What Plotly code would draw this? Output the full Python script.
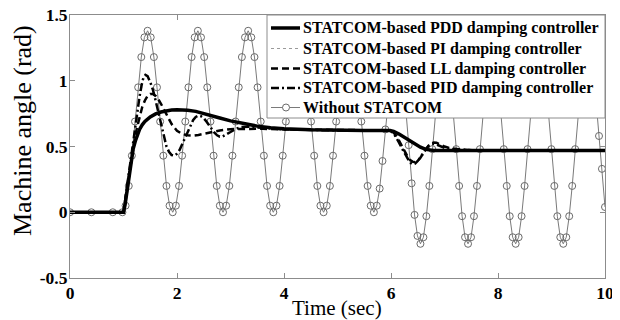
import plotly.graph_objects as go

# ---- Without STATCOM ----
t_wo = [0, 0.4, 0.8,
        0.98, 1.039, 1.098, 1.156, 1.215, 1.274, 1.333, 1.391, 1.45,
        1.509, 1.568, 1.626, 1.685, 1.744, 1.803, 1.861, 1.92,
        1.979, 2.038, 2.096, 2.155, 2.214, 2.273, 2.331, 2.39,
        2.449, 2.508, 2.566, 2.625, 2.684, 2.743, 2.801, 2.86,
        2.919, 2.978, 3.036, 3.095, 3.154, 3.213, 3.271, 3.33,
        3.389, 3.448, 3.506, 3.565, 3.624, 3.683, 3.741, 3.80,
        3.859, 3.918, 3.976, 4.035, 4.094, 4.153, 4.211, 4.27,
        4.329, 4.388, 4.446, 4.505, 4.564, 4.623, 4.681, 4.74,
        4.799, 4.858, 4.916, 4.975, 5.034, 5.093, 5.151, 5.21,
        5.269, 5.328, 5.386, 5.445, 5.504, 5.563, 5.621, 5.68,
        5.734, 5.788, 5.841, 5.895, 5.949, 6.003, 6.056, 6.11,
        6.165, 6.22, 6.275, 6.33, 6.385, 6.44, 6.495, 6.55,
        6.606, 6.661, 6.717, 6.772, 6.828, 6.884, 6.939, 6.995,
        7.051, 7.106, 7.162, 7.218, 7.273, 7.329, 7.384, 7.44,
        7.496, 7.551, 7.607, 7.662, 7.718, 7.774, 7.829, 7.885,
        7.941, 7.996, 8.052, 8.108, 8.163, 8.219, 8.274, 8.33,
        8.386, 8.441, 8.497, 8.552, 8.608, 8.664, 8.719, 8.775,
        8.831, 8.886, 8.942, 8.998, 9.053, 9.109, 9.164, 9.22,
        9.276, 9.331, 9.387, 9.442, 9.498, 9.554, 9.609, 9.665,
        9.721, 9.776, 9.832, 9.888, 9.943, 10.0]
v_wo = [0, 0, 0,
        0, 0.05, 0.20, 0.43, 0.69, 0.95, 1.18, 1.33, 1.38,
        1.33, 1.18, 0.95, 0.69, 0.43, 0.20, 0.05, 0.0,
        0.05, 0.20, 0.43, 0.69, 0.95, 1.18, 1.33, 1.38,
        1.33, 1.18, 0.95, 0.69, 0.43, 0.20, 0.05, 0.0,
        0.05, 0.20, 0.43, 0.69, 0.95, 1.18, 1.33, 1.38,
        1.33, 1.18, 0.95, 0.69, 0.43, 0.20, 0.05, 0.0,
        0.05, 0.20, 0.43, 0.69, 0.95, 1.18, 1.33, 1.38,
        1.33, 1.18, 0.95, 0.69, 0.43, 0.20, 0.05, 0.0,
        0.05, 0.20, 0.43, 0.69, 0.95, 1.18, 1.33, 1.38,
        1.33, 1.18, 0.95, 0.69, 0.43, 0.20, 0.05, 0.0,
        0.05, 0.18, 0.39, 0.63, 0.86, 1.07, 1.20, 1.25,
        1.19, 1.03, 0.79, 0.51, 0.22, -0.02, -0.18, -0.24,
        -0.19, -0.03, 0.20, 0.48, 0.76, 0.99, 1.15, 1.20,
        1.15, 0.99, 0.76, 0.48, 0.20, -0.03, -0.19, -0.24,
        -0.19, -0.03, 0.20, 0.48, 0.76, 0.99, 1.15, 1.20,
        1.15, 0.99, 0.76, 0.48, 0.20, -0.03, -0.19, -0.24,
        -0.19, -0.03, 0.20, 0.48, 0.76, 0.99, 1.15, 1.20,
        1.15, 0.99, 0.76, 0.48, 0.20, -0.03, -0.19, -0.24,
        -0.19, -0.03, 0.20, 0.48, 0.76, 0.99, 1.15, 1.20,
        1.19, 1.10, 0.85, 0.58, 0.33, 0.04]

# ---- STATCOM-based PDD ----
t_pdd = [0, 1.0, 1.03, 1.06, 1.09, 1.12, 1.15, 1.18, 1.22, 1.26, 1.3, 1.35, 1.4, 1.5,
         1.6, 1.7, 1.8, 1.9, 2.0, 2.1, 2.2, 2.35, 2.5, 2.65, 2.8, 3.0, 3.25, 3.5,
         3.75, 4.0, 4.5, 5.0, 5.5, 5.98, 6.05, 6.15, 6.25, 6.35, 6.45, 6.55, 6.65,
         6.8, 7.0, 8.0, 9.0, 10]
v_pdd = [0, 0, 0.06, 0.15, 0.25, 0.34, 0.42, 0.48, 0.54, 0.59, 0.63, 0.665, 0.69, 0.725,
         0.748, 0.762, 0.772, 0.778, 0.78, 0.779, 0.776, 0.767, 0.752, 0.735, 0.717, 0.695, 0.672, 0.655,
         0.643, 0.635, 0.627, 0.623, 0.622, 0.622, 0.615, 0.595, 0.57, 0.545, 0.52, 0.495, 0.478,
         0.47, 0.47, 0.47, 0.47, 0.47]

# ---- STATCOM-based PI (runs under the PDD trace) ----
t_pi = [0, 1.0, 1.03, 1.06, 1.09, 1.12, 1.15, 1.18, 1.22, 1.26, 1.3, 1.35, 1.4, 1.5,
        1.6, 1.7, 1.8, 1.9, 2.0, 2.1, 2.2, 2.35, 2.5, 2.65, 2.8, 3.0, 3.25, 3.5,
        3.75, 4.0, 4.5, 5.0, 5.5, 5.98, 6.05, 6.15, 6.25, 6.35, 6.45, 6.55, 6.65,
        6.8, 7.0, 8.0, 9.0, 10]
v_pi = [0, 0, 0.06, 0.15, 0.25, 0.34, 0.42, 0.48, 0.54, 0.59, 0.63, 0.665, 0.69, 0.725,
        0.748, 0.762, 0.772, 0.778, 0.78, 0.779, 0.776, 0.767, 0.752, 0.735, 0.717, 0.695, 0.672, 0.655,
        0.643, 0.635, 0.627, 0.623, 0.622, 0.622, 0.615, 0.595, 0.57, 0.545, 0.52, 0.495, 0.478,
        0.47, 0.47, 0.47, 0.47, 0.47]

# ---- STATCOM-based LL ----
t_ll = [0, 1.0, 1.05, 1.1, 1.15, 1.2, 1.25, 1.3, 1.35, 1.4, 1.45, 1.5, 1.55, 1.6, 1.65,
        1.7, 1.8, 1.9, 2.0, 2.1, 2.2, 2.3, 2.4, 2.5, 2.6, 2.8, 3.0, 3.3, 3.6, 4.0,
        5.0, 5.98, 6.05, 6.1, 6.15, 6.2, 6.25, 6.3, 6.35, 6.4, 6.45, 6.5, 6.55, 6.6,
        6.65, 6.7, 6.75, 6.8, 6.85, 6.9, 7.0, 7.1, 7.3, 7.6, 8.0, 9.0, 10]
v_ll = [0, 0, 0.14, 0.28, 0.41, 0.53, 0.64, 0.73, 0.80, 0.85, 0.885, 0.90, 0.90, 0.885, 0.86,
        0.825, 0.745, 0.67, 0.62, 0.595, 0.585, 0.583, 0.588, 0.597, 0.607, 0.622, 0.632, 0.636, 0.635, 0.63,
        0.625, 0.622, 0.605, 0.58, 0.545, 0.505, 0.465, 0.43, 0.40, 0.385, 0.38, 0.39, 0.415, 0.45,
        0.48, 0.505, 0.522, 0.53, 0.528, 0.52, 0.50, 0.488, 0.476, 0.47, 0.47, 0.47, 0.47]

# ---- STATCOM-based PID ----
t_pid = [0, 1.0, 1.05, 1.1, 1.15, 1.2, 1.25, 1.3, 1.34, 1.37, 1.41, 1.45, 1.5, 1.55,
         1.6, 1.65, 1.7, 1.75, 1.8, 1.85, 1.9, 1.95, 2.0, 2.05, 2.1, 2.15, 2.2, 2.25,
         2.3, 2.35, 2.4, 2.45, 2.5, 2.55, 2.6, 2.65, 2.7, 2.75, 2.8, 2.85, 2.9, 3.0,
         3.1, 3.2, 3.35, 3.5, 3.7, 4.0, 5.0, 5.98, 6.05, 6.1, 6.15, 6.2, 6.25, 6.3,
         6.35, 6.4, 6.45, 6.5, 6.55, 6.6, 6.65, 6.7, 6.75, 6.8, 6.85, 6.9, 7.0, 7.1,
         7.3, 7.6, 8.0, 9.0, 10]
v_pid = [0, 0, 0.15, 0.30, 0.46, 0.62, 0.76, 0.88, 0.97, 1.02, 1.045, 1.035, 0.99, 0.93,
         0.85, 0.76, 0.665, 0.575, 0.505, 0.46, 0.435, 0.43, 0.445, 0.475, 0.52, 0.57, 0.62, 0.665,
         0.70, 0.725, 0.735, 0.73, 0.715, 0.69, 0.66, 0.63, 0.605, 0.585, 0.575, 0.575, 0.585, 0.61,
         0.635, 0.648, 0.65, 0.645, 0.638, 0.63, 0.622, 0.622, 0.60, 0.57, 0.53, 0.49, 0.45, 0.41,
         0.38, 0.365, 0.37, 0.39, 0.42, 0.455, 0.485, 0.505, 0.518, 0.52, 0.515, 0.505, 0.49, 0.48,
         0.474, 0.47, 0.47, 0.47, 0.47]

x_ticks = [0, 2, 4, 6, 8, 10]
x_tick_text = ["0", "2", "4", "6", "8", "10"]
y_ticks = [-0.5, 0, 0.5, 1, 1.5]
y_tick_text = ["-0.5", "0", "0.5", "1", "1.5"]

legend_names = ["STATCOM-based PDD damping controller",
                "STATCOM-based PI damping controller",
                "STATCOM-based LL damping controller",
                "STATCOM-based PID damping controller",
                "Without STATCOM"]

for a, b in [(t_wo, v_wo), (t_pdd, v_pdd), (t_pi, v_pi), (t_ll, v_ll), (t_pid, v_pid)]:
    assert len(a) == len(b), (len(a), len(b))

SERIF = "Times New Roman, Liberation Serif, Tinos, serif"
GRAY = "#8c8c8c"

styles = {
    "pdd": dict(color="black", width=3.5),
    "pi": dict(color="#9a9a9a", width=1.2, dash="dot"),
    "ll": dict(color="black", width=2.5, dash="7px,4px"),
    "pid": dict(color="black", width=2.5, dash="8px,3px,2px,3px"),
    "wo": dict(color="#7a7a7a", width=1),
}
wo_marker = dict(symbol="circle-open", size=7, color="#6a6a6a", line=dict(width=1))

fig = go.Figure()
fig.add_trace(go.Scatter(x=t_wo, y=v_wo, mode="lines+markers", name=legend_names[4],
                         line=styles["wo"], marker=wo_marker))
fig.add_trace(go.Scatter(x=t_pi, y=v_pi, mode="lines", name=legend_names[1], line=styles["pi"]))
fig.add_trace(go.Scatter(x=t_ll, y=v_ll, mode="lines", name=legend_names[2], line=styles["ll"]))
fig.add_trace(go.Scatter(x=t_pid, y=v_pid, mode="lines", name=legend_names[3], line=styles["pid"]))
fig.add_trace(go.Scatter(x=t_pdd, y=v_pdd, mode="lines", name=legend_names[0], line=styles["pdd"]))

# page offset of the plot div (browser default body margin)
OFF = 8
FIG_W, FIG_H = 620 - OFF, 320 - OFF
# plot area in page pixels
PL, PT, PR, PB = 70, 15, 605, 278
L, T = PL - OFF, PT - OFF
PW, PH = PR - PL, PB - PT

def px(xp):
    return (xp - PL) / PW
def py(yp):
    return (PB - yp) / PH

shapes = [dict(type="rect", xref="paper", yref="paper", layer="above",
               x0=px(267), x1=1.0, y0=py(118), y1=1.0,
               fillcolor="white", line=dict(color=GRAY, width=1))]
annotations = []
row_y = [28, 48.5, 68.5, 88, 107.5]
keys = ["pdd", "pi", "ll", "pid", "wo"]
for name, key, ry in zip(legend_names, keys, row_y):
    st = styles[key]
    line = dict(color=st["color"], width=st["width"])
    if "dash" in st:
        line["dash"] = st["dash"]
    shapes.append(dict(type="line", xref="paper", yref="paper", layer="above",
                       x0=px(271), x1=px(300), y0=py(ry), y1=py(ry), line=line))
    if key == "wo":
        shapes.append(dict(type="circle", xref="paper", yref="paper", layer="above",
                           xsizemode="pixel", ysizemode="pixel",
                           xanchor=px(286), yanchor=py(ry),
                           x0=-3.5, x1=3.5, y0=-3.5, y1=3.5,
                           fillcolor="white", line=dict(color="#6a6a6a", width=1)))
    annotations.append(dict(xref="paper", yref="paper", x=px(301), y=py(ry),
                            xanchor="left", yanchor="middle", showarrow=False,
                            text="<b>" + name + "</b>",
                            font=dict(family=SERIF, size=16, color="black")))

# axis titles
annotations.append(dict(xref="paper", yref="paper", x=px(337), y=py(308),
                        xanchor="center", yanchor="middle", showarrow=False,
                        text="Time (sec)", font=dict(family=SERIF, size=21, color="black")))
annotations.append(dict(xref="paper", yref="paper", x=px(22), y=py(131),
                        xanchor="center", yanchor="middle", showarrow=False, textangle=-90,
                        text="Machine angle (rad)", font=dict(family=SERIF, size=26, color="black")))

axis_common = dict(
    showline=True, linecolor=GRAY, linewidth=1, mirror="ticks",
    ticks="inside", ticklen=5, tickcolor=GRAY,
    showgrid=False, zeroline=False, automargin=False,
    ticklabeloverflow="allow",
    tickfont=dict(family=SERIF, size=17.5, color="black"),
)

fig.update_layout(
    width=FIG_W, height=FIG_H,
    margin=dict(l=L, r=FIG_W - L - PW, t=T, b=FIG_H - T - PH, pad=0),
    paper_bgcolor="white", plot_bgcolor="white",
    showlegend=False,
    shapes=shapes, annotations=annotations,
    xaxis=dict(range=[0, 10], tickvals=x_ticks, ticklabelstandoff=-1,
               ticktext=["<b>" + s + "</b>" for s in x_tick_text], **axis_common),
    yaxis=dict(range=[-0.5, 1.5], tickvals=y_ticks, ticklabelstandoff=-2,
               ticktext=["<b>" + s + "</b>" for s in y_tick_text], **axis_common),
)

fig.write_html("out.html")
